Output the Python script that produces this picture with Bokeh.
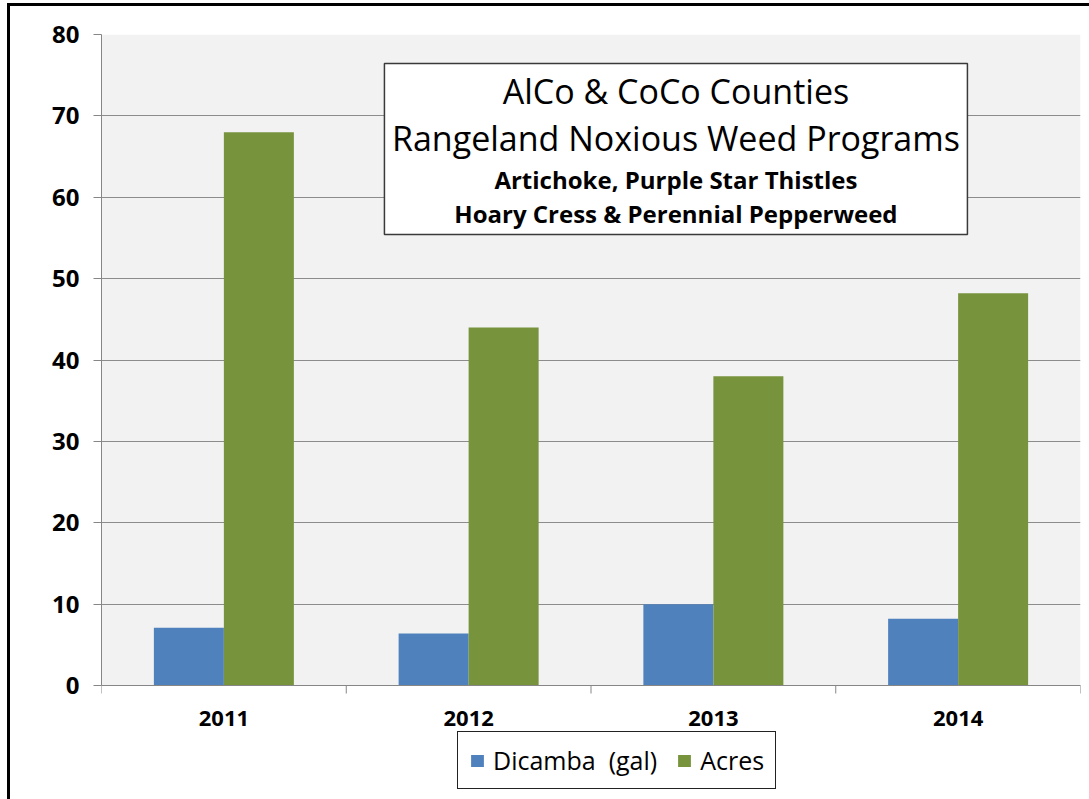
from bokeh.plotting import figure
from bokeh.models import (Range1d, FixedTicker, Legend, LegendItem, BoxAnnotation, Label,
                          ColumnDataSource, Span)
from bokeh.core.properties import value
from bokeh.embed import file_html
from bokeh.resources import INLINE
import numpy as np

years = ["2011", "2012", "2013", "2014"]
dicamba = [7.1, 6.4, 10.0, 8.2]
acres = [68.0, 44.0, 38.0, 48.2]
y_ticks = [0, 10, 20, 30, 40, 50, 60, 70, 80]
title_lines = ["AlCo & CoCo Counties", "Rangeland Noxious Weed Programs",
               "Artichoke, Purple Star Thistles", "Hoary Cress & Perennial Pepperweed"]
series_names = ["Dicamba  (gal)", "Acres"]

FONT = "Open Sans"
BLUE = "#4F81BD"
GREEN = "#77933C"
AXIS = "#868686"

idx = np.arange(len(years))
centers = idx + 0.5
bounds_x = np.arange(len(years) + 1)
bw = 0.286

Y_MAX = 80
PX_PER_UNIT = 651 / Y_MAX          # frame pixels per value unit
Y_MIN = -114 / PX_PER_UNIT         # space under the value axis for labels and legend

p = figure(width=1089, height=799, frame_width=979, frame_height=765,
           output_backend="svg", toolbar_location=None, x_axis_location=None,
           x_range=Range1d(0, len(years)), y_range=Range1d(Y_MIN, Y_MAX),
           min_border_left=101, min_border_right=9, min_border_top=34, min_border_bottom=0)
p.background_fill_color = None
p.border_fill_color = None
p.outline_line_color = None
p.styles = {
    "background": "linear-gradient(#000, #000) 7px 3px / 3px 100% no-repeat, "
                  "linear-gradient(#000, #000) 7px 3px / 100% 3px no-repeat, #fff"
}

# plot area background
p.add_layout(BoxAnnotation(left=0, right=len(years), bottom=0, top=Y_MAX, level="image",
                           fill_color="#F2F2F2", fill_alpha=1.0, line_color=None))

src_b = ColumnDataSource(dict(x=centers - bw / 2, top=dicamba))
src_g = ColumnDataSource(dict(x=centers + bw / 2, top=acres))
rb = p.vbar(x="x", top="top", width=bw, bottom=0, source=src_b, fill_color=BLUE, line_color=None)
rg = p.vbar(x="x", top="top", width=bw, bottom=0, source=src_g, fill_color=GREEN, line_color=None)

# category axis (drawn by hand below the value 0)
p.add_layout(Span(location=0, dimension="width", line_color=AXIS, line_width=1))
tick_len = 8 / PX_PER_UNIT
p.segment(x0=bounds_x, y0=np.zeros(len(bounds_x)), x1=bounds_x,
          y1=np.full(len(bounds_x), -tick_len), line_color=AXIS, line_width=1)
p.text(x=centers, y=np.full(len(years), -33 / PX_PER_UNIT), text=years,
       text_font=value(FONT), text_font_style="bold", text_font_size="22px",
       text_align="center", text_baseline="middle", text_color="black")

# y axis
yax = p.yaxis[0]
yax.ticker = FixedTicker(ticks=y_ticks)
yax.bounds = (0, Y_MAX)
yax.minor_tick_line_color = None
yax.major_tick_line_color = AXIS
yax.major_tick_out = 8
yax.major_tick_in = 0
yax.axis_line_color = AXIS
yax.major_label_text_font = FONT
yax.major_label_text_font_style = "bold"
yax.major_label_text_font_size = "24px"
yax.major_label_text_color = "black"
yax.major_label_standoff = 14

p.xgrid.grid_line_color = None
p.ygrid.grid_line_color = "#8C8C8C"
p.ygrid.grid_line_width = 1

# title box
p.add_layout(BoxAnnotation(left=1.156, right=3.538, bottom=55.42, top=76.44,
                           fill_color="white", fill_alpha=1.0, line_color="#3A3A3A",
                           line_alpha=1.0, line_width=1.5))
ys = [73.0, 67.34, 62.18, 58.0]
sizes = ["34px", "34px", "24px", "24px"]
styles = ["normal", "normal", "bold", "bold"]
for t, yy, s, st in zip(title_lines, ys, sizes, styles):
    p.add_layout(Label(x=2.347, y=yy, text=t, text_align="center", text_baseline="middle",
                       text_font=FONT, text_font_size=s, text_font_style=st, text_color="black"))

legend = Legend(items=[LegendItem(label=series_names[0], renderers=[rb]),
                       LegendItem(label=series_names[1], renderers=[rg])],
                orientation="horizontal", location=(356, 10))
legend.label_text_font = FONT
legend.label_text_font_size = "25px"
legend.label_text_color = "black"
legend.glyph_width = 16
legend.glyph_height = 15
legend.label_standoff = 8
legend.spacing = 19
legend.padding = 11
legend.margin = 0
legend.label_height = 22
legend.border_line_color = "#222222"
legend.border_line_alpha = 1
legend.border_line_width = 1.5
legend.background_fill_color = "white"
legend.background_fill_alpha = 1
p.add_layout(legend, "center")

open("out.html", "w").write(file_html(p, INLINE))
